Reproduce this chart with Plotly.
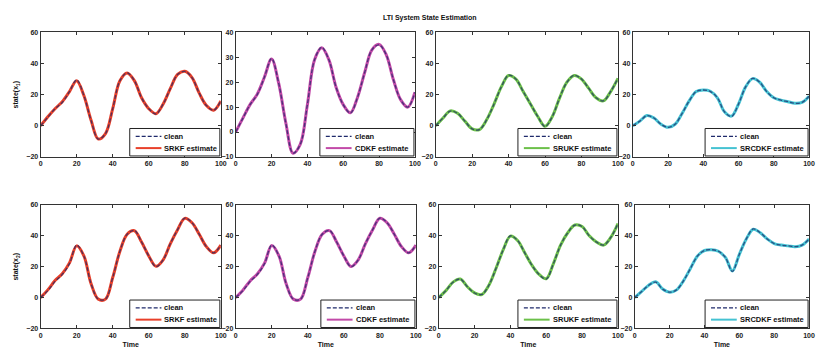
import plotly.graph_objects as go

W, H = 821, 355

t = [0, 4, 8, 12, 16, 20, 24, 28, 32, 36, 40, 44, 48, 52, 56, 60, 64, 68, 72, 76, 80, 84, 88, 92, 96, 100]

# top row (state 1)
srkf_top_clean = [0, 5.5, 11, 15, 22, 29.5, 19.5, 3.4, -8.5, -5, 11, 29, 34, 29, 18, 11, 7.6, 14, 24, 33, 35, 31, 21, 13, 10, 16]
srkf_top_est   = [0, 5.8, 11, 15.5, 22, 29, 19.5, 3.6, -8.5, -5, 11, 29, 34, 29, 18, 11, 7.8, 14, 24, 33, 35, 31, 21, 13, 10, 16]
cdkf_top_clean = [0, 5.5, 11, 15, 22, 29.5, 19.5, 3.4, -8.5, -5, 11, 29, 34, 29, 18, 11, 7.6, 14, 24, 33, 35, 31, 21, 13, 10, 16]
cdkf_top_est   = [0, 5.6, 11, 15.2, 22, 29.3, 19.5, 3.5, -8.5, -5, 11, 29, 33.8, 29, 18, 11, 7.7, 14, 24, 33, 35.2, 31, 21, 13, 10, 16]
srukf_top_clean = [0, 5, 9.5, 8, 3, -2, -2.5, 4, 14, 25, 32.5, 30, 22, 14, 6, -0.5, 6, 18, 28, 32.5, 30, 24, 18, 16, 22, 30.5]
srukf_top_est   = [0, 5, 9.6, 8, 3, -2, -2.4, 4, 14, 25, 32.3, 30, 22, 14, 6, -0.3, 6, 18, 28, 32.3, 30, 24, 18, 16, 22, 30.5]
srcdkf_top_clean = [0, 3, 6.5, 5, 1, -1, 1, 8, 16, 22, 23, 22, 18, 9, 6, 14, 25, 30.5, 28, 22, 18, 16.5, 15.5, 14.5, 15, 19]
srcdkf_top_est   = [0, 3, 6.6, 5, 1, -1, 1, 8, 16, 22, 23, 22.2, 18, 9, 6.2, 14, 25, 30.3, 28, 22, 18, 16.5, 15.5, 14.5, 15, 19]

# bottom row (state 2)
srkf_bot_clean = [0, 4.5, 10.5, 15, 22, 34, 27, 9, -1, -1, 13, 30, 41, 43.5, 36, 27, 20, 24.5, 35, 44, 51.5, 48.5, 41, 33, 29, 34]
srkf_bot_est   = [0, 5, 11, 15.5, 22.5, 33.5, 27, 9, -1, -1, 13, 30, 41, 43.3, 36, 27, 20.3, 24.5, 35, 44, 51.3, 48.5, 41, 33, 29, 34]
cdkf_bot_clean = [0, 4.5, 10.5, 15, 22, 34, 27, 9, -1, -1, 13, 30, 41, 43.5, 36, 27, 20, 24.5, 35, 44, 51.5, 48.5, 41, 33, 29, 34]
cdkf_bot_est   = [0, 4.8, 10.8, 15.3, 22.3, 33.7, 27, 9, -1, -1, 13, 30, 41, 43.4, 36, 27, 20.2, 24.5, 35, 44, 51.4, 48.5, 41, 33, 29, 34]
srukf_bot_clean = [0, 4.5, 10, 12, 7, 3, 2, 8, 19, 31, 40, 37, 29, 21, 15, 12, 22, 34, 42, 47, 46, 40, 36, 34, 39, 48]
srukf_bot_est   = [0, 4.5, 10, 12, 7, 3, 2, 8, 19, 31, 39.8, 37, 29, 21, 15, 12.2, 22, 34, 42, 47, 46, 40, 36, 34, 39, 48]
srcdkf_bot_clean = [0, 4, 8, 10, 5.5, 3.5, 5, 11, 19, 27, 30.5, 31, 30, 26, 17, 28, 38, 44.5, 42, 38, 35, 34, 33.5, 33, 34, 38]
srcdkf_bot_est   = [0, 4, 8, 10.2, 5.5, 3.5, 5, 11, 19, 27, 30.5, 31, 30, 26, 17.3, 28, 38, 44.3, 42, 38, 35, 34, 33.5, 33, 34, 38]

names = ["SRKF estimate", "CDKF estimate", "SRUKF estimate", "SRCDKF estimate"]
colors = ["#e8402a", "#c24aa8", "#6cc04a", "#45c2d2"]
clean_color = "#1f2a6b"
legend_widths = [91, 95, 100, 104]

panels = [
    (srkf_top_clean, srkf_top_est, 0), (cdkf_top_clean, cdkf_top_est, 1),
    (srukf_top_clean, srukf_top_est, 2), (srcdkf_top_clean, srcdkf_top_est, 3),
    (srkf_bot_clean, srkf_bot_est, 0), (cdkf_bot_clean, cdkf_bot_est, 1),
    (srukf_bot_clean, srukf_bot_est, 2), (srcdkf_bot_clean, srcdkf_bot_est, 3),
]

# pixel boxes (left, right, top, bottom)
boxes = [
    (39, 221, 29, 156), (236, 417, 29, 156), (438, 622, 29, 156), (637, 815, 29, 156),
    (39, 221, 205, 331), (236, 418, 205, 331), (441, 622, 205, 331), (639, 815, 205, 331),
]
yranges = [(-20, 60), (-10, 40), (-20, 60), (-20, 60), (-20, 60), (-20, 60), (-20, 60), (-20, 60)]
ydticks = [20, 10, 20, 20, 20, 20, 20, 20]

def px(xp):
    return xp / W

def py(yp):
    return 1 - yp / H

fig = go.Figure()
tickfont = dict(family="Liberation Sans", size=7, color="#222", weight="bold")
txtfont = dict(family="Liberation Sans", size=7, color="#111", weight="bold")
legfont = dict(family="Liberation Sans", size=7.5, color="#111", weight="bold")
shapes = []
annotations = []

for i, (clean, est, ci) in enumerate(panels):
    n = i + 1
    xa = "x" if n == 1 else f"x{n}"
    ya = "y" if n == 1 else f"y{n}"
    fig.add_trace(go.Scatter(x=t, y=est, mode="lines", name=names[ci], xaxis=xa, yaxis=ya,
                             line=dict(color=colors[ci], width=3, shape="spline"), showlegend=False))
    fig.add_trace(go.Scatter(x=t, y=clean, mode="lines", name="clean", xaxis=xa, yaxis=ya,
                             line=dict(color=clean_color, width=1.3, dash="4px,2px", shape="spline"),
                             opacity=0.75, showlegend=False))
    l, r, tp, b = boxes[i]
    axkw = dict(showline=True, mirror="ticks", ticks="inside", ticklen=3, linecolor="#333",
                linewidth=1, tickcolor="#333", showgrid=False, zeroline=False, tickfont=tickfont)
    xkey = "xaxis" if n == 1 else f"xaxis{n}"
    ykey = "yaxis" if n == 1 else f"yaxis{n}"
    xlayout = dict(domain=[px(l), px(r)], range=[0, 100], dtick=20, anchor=ya, **axkw)
    ylayout = dict(domain=[py(b), py(tp)], range=list(yranges[i]), dtick=ydticks[i], anchor=xa, **axkw)
    if n >= 5:
        xlayout["title"] = dict(text="Time", font=txtfont, standoff=4)
    if n in (1, 5):
        ylayout["title"] = dict(text="state(x<sub>1</sub>)" if n == 1 else "state(x<sub>2</sub>)",
                                font=txtfont, standoff=6)
    fig.update_layout(**{xkey: xlayout, ykey: ylayout})

    # legend box (manual, compact like MATLAB)
    lw = legend_widths[ci]
    bx1 = r - 1
    bx0 = bx1 - lw
    by1 = b - 1
    by0 = by1 - 28
    shapes.append(dict(type="rect", xref="paper", yref="paper", x0=px(bx0), x1=px(bx1),
                       y0=py(by1), y1=py(by0), line=dict(color="#222", width=1), fillcolor="white",
                       layer="above"))
    row1 = by0 + 8
    row2 = by0 + 20
    shapes.append(dict(type="line", xref="paper", yref="paper", x0=px(bx0 + 6), x1=px(bx0 + 32),
                       y0=py(row1), y1=py(row1), line=dict(color=clean_color, width=1.3, dash="4px,2px"),
                       layer="above"))
    shapes.append(dict(type="line", xref="paper", yref="paper", x0=px(bx0 + 6), x1=px(bx0 + 32),
                       y0=py(row2), y1=py(row2), line=dict(color=colors[ci], width=2), layer="above"))
    annotations.append(dict(text="clean", x=px(bx0 + 33), y=py(row1), xref="paper", yref="paper",
                            xanchor="left", yanchor="middle", showarrow=False, font=legfont))
    annotations.append(dict(text=names[ci], x=px(bx0 + 33), y=py(row2), xref="paper", yref="paper",
                            xanchor="left", yanchor="middle", showarrow=False, font=legfont))

annotations.append(dict(text="LTI System State Estimation", x=px(432), y=py(14), xref="paper", yref="paper",
                        xanchor="center", yanchor="middle", showarrow=False, font=txtfont))

fig.update_layout(
    width=W, height=H,
    margin=dict(l=0, r=0, t=0, b=0),
    paper_bgcolor="white", plot_bgcolor="white",
    showlegend=False,
    shapes=shapes, annotations=annotations,
)

fig.write_html("out.html")
